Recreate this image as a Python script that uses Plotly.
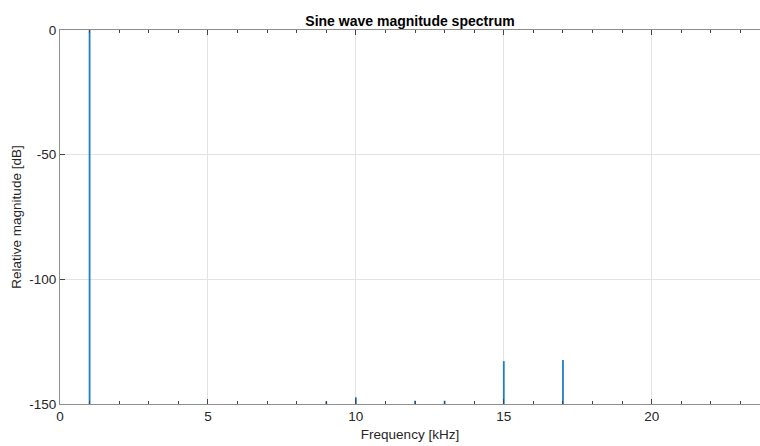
import plotly.graph_objects as go

# Spectral peaks (kHz) and their relative magnitudes (dB)
peak_freq_khz = [1, 9, 10, 12, 13, 15, 17]
peak_mag_db = [0, -148.9, -147.3, -148.7, -148.7, -132.8, -132.4]
noise_floor_db = -160

x_ticks = [0, 5, 10, 15, 20]
y_ticks = [-150, -100, -50, 0]
y_tick_labels = ["-150", "-100", "-50", "0"]

xs, ys = [], []
for f, m in zip(peak_freq_khz, peak_mag_db):
    xs += [f, f, None]
    ys += [noise_floor_db, m, None]

fig = go.Figure()
fig.add_trace(go.Scatter(x=xs, y=ys, mode="lines",
                         line=dict(color="#1f7fc4", width=1.8),
                         showlegend=False, hoverinfo="skip"))

axis_color = "#8f8f8f"
font_fam = "Liberation Sans, Arial, sans-serif"
fig.update_layout(
    width=760, height=446,
    margin=dict(l=60, r=0, t=30, b=42),
    paper_bgcolor="white", plot_bgcolor="white",
    font=dict(family=font_fam, size=13.5, color="#262626"),
    title=dict(text="<b>Sine wave magnitude spectrum</b>", x=0.5, xref="paper",
               y=1, yref="paper", yanchor="bottom", pad=dict(b=4),
               font=dict(size=14, color="#000000")),
    xaxis=dict(range=[0, 23.66], tickvals=x_ticks, ticks="inside", ticklen=5,
               tickcolor="#444", showline=True, linecolor=axis_color, linewidth=1,
               mirror="ticks", showgrid=True, gridcolor="#e3e3e3", gridwidth=1,
               zeroline=False,
               minor=dict(dtick=1, ticks="inside", ticklen=3, tickcolor="#444",
                          showgrid=False),
               title=dict(text="Frequency [kHz]", standoff=6,
                          font=dict(size=13.5, color="#262626")),
               tickfont=dict(size=13.5, color="#262626")),
    yaxis=dict(range=[-150, 0], tickvals=y_ticks, ticktext=y_tick_labels,
               ticks="inside", ticklen=5,
               tickcolor="#444", showline=True, linecolor=axis_color, linewidth=1,
               mirror=False, showgrid=True, gridcolor="#e3e3e3", gridwidth=1,
               zeroline=False,
               title=dict(text="Relative magnitude [dB]", standoff=4,
                          font=dict(size=13.5, color="#262626")),
               tickfont=dict(size=13.5, color="#262626")),
)

fig.write_html("out.html")
